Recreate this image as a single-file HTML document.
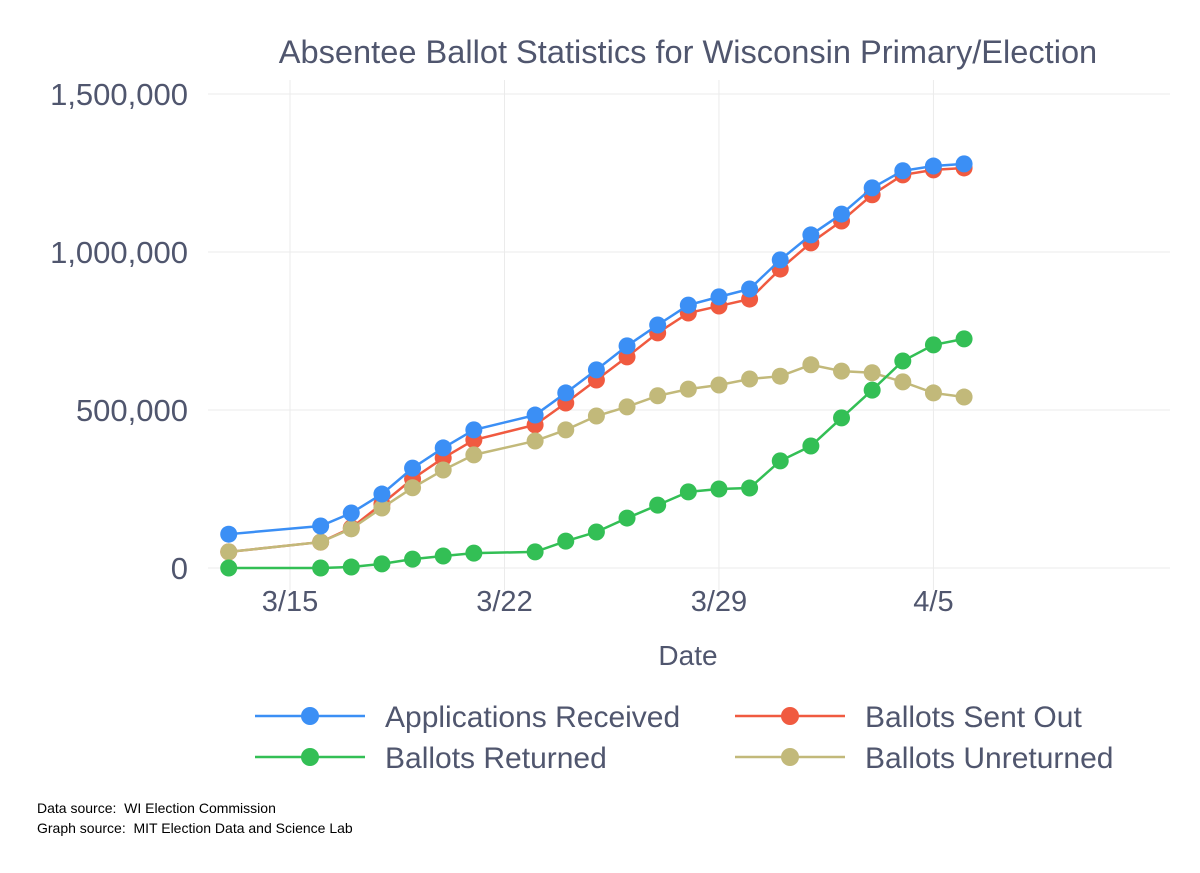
<!DOCTYPE html>
<html><head><meta charset="utf-8"><style>
body{margin:0;background:#fff;}
svg{display:block;font-family:"Liberation Sans",sans-serif;}
</style></head><body>
<svg id="chart" width="1200" height="873">
<text x="688" y="63" text-anchor="middle" font-size="32.6" fill="#50566e">Absentee Ballot Statistics for Wisconsin Primary/Election</text>
<g id="grid"></g><g id="yt"></g><g id="xt"></g><g id="series"></g>
<text x="688" y="665" text-anchor="middle" font-size="28" fill="#50566e">Date</text>
<g id="legend"></g>
<text x="37" y="813" font-size="14" fill="#000" style="white-space:pre">Data source:  WI Election Commission</text>
<text x="37" y="833" font-size="14" fill="#000" style="white-space:pre">Graph source:  MIT Election Data and Science Lab</text>
</svg>
<script>
const days = [0,3,4,5,6,7,8,10,11,12,13,14,15,16,17,18,19,20,21,22,23,24]; // days since 3/13
const applications = [107000,133000,174000,234000,316000,380000,437000,484000,554000,627000,703000,769000,832000,858000,883000,975000,1054000,1120000,1203000,1257000,1272000,1279000];
const sentOut = [51000,82000,127000,203000,282000,348000,405000,453000,522000,595000,668000,744000,807000,829000,851000,946000,1029000,1098000,1181000,1244000,1260000,1266000];
const returned = [0,0,3000,13000,28000,38000,47000,51000,85000,114000,158000,199000,241000,250000,253000,339000,386000,475000,563000,655000,706000,725000];
const unreturned = [51000,82000,124000,190000,254000,310000,358000,402000,437000,481000,510000,545000,566000,579000,598000,607000,643000,623000,618000,589000,554000,541000];
const yTicks = [0,500000,1000000,1500000];
const xTickDays = [2,9,16,23];
const xTickLabels = ["3/15","3/22","3/29","4/5"];
const seriesNames = ["Applications Received","Ballots Sent Out","Ballots Returned","Ballots Unreturned"];
const colors = ["#3b8ff5","#f05a40","#33bf55","#c2b97a"];

const NS="http://www.w3.org/2000/svg";
const X=d=>290+(d-2)*30.64;
const Y=v=>568-v/500000*158;
function mk(tag,attrs,parent){const e=document.createElementNS(NS,tag);for(const k in attrs)e.setAttribute(k,attrs[k]);parent.appendChild(e);return e;}
const grid=document.getElementById('grid'),yt=document.getElementById('yt'),xt=document.getElementById('xt'),ser=document.getElementById('series'),leg=document.getElementById('legend');
yTicks.forEach(v=>{
 const l=mk('line',{x1:208,x2:1170,y1:Y(v),y2:Y(v),stroke:'#ebebeb','stroke-width':1},grid);
 
 
 const t=mk('text',{x:188,y:Y(v)+11,'text-anchor':'end','font-size':31,fill:'#50566e'},yt);
 t.textContent=v.toLocaleString('en-US');
 
 
});
xTickDays.forEach((d,i)=>{
 const l=mk('line',{x1:X(d),x2:X(d),y1:80,y2:590,stroke:'#ebebeb','stroke-width':1},grid);
 
 
 const t=mk('text',{x:X(d),y:611,'text-anchor':'middle','font-size':29,fill:'#50566e'},xt);
 t.textContent=xTickLabels[i];
 
 
});
const all=[applications,sentOut,returned,unreturned];
const order=[1,3,2,0];
order.forEach(si=>{
 const vals=all[si];
 const g=mk('g',{},ser);
 
 
 const p=mk('polyline',{points:vals.map((v,i)=>X(days[i])+','+Y(v)).join(' '),fill:'none',stroke:colors[si],'stroke-width':2.5},g);
 
 
 vals.forEach((v,i)=>{
  const c=mk('circle',{cx:X(days[i]),cy:Y(v),r:8.5,fill:colors[si]},g);
  
  
 });
});
const legPos=[[255,716],[735,716],[255,757],[735,757]];
seriesNames.forEach((n,i)=>{
 const [x,y]=legPos[i];
 const g=mk('g',{},leg);
 
 
 mk('line',{x1:x,x2:x+110,y1:y,y2:y,stroke:colors[i],'stroke-width':2.5},g);
 mk('circle',{cx:x+55,cy:y,r:9,fill:colors[i]},g);
 const t=mk('text',{x:x+130,y:y+11,'font-size':30,fill:'#50566e'},g);
 t.textContent=n;
});
</script>
</body></html>
